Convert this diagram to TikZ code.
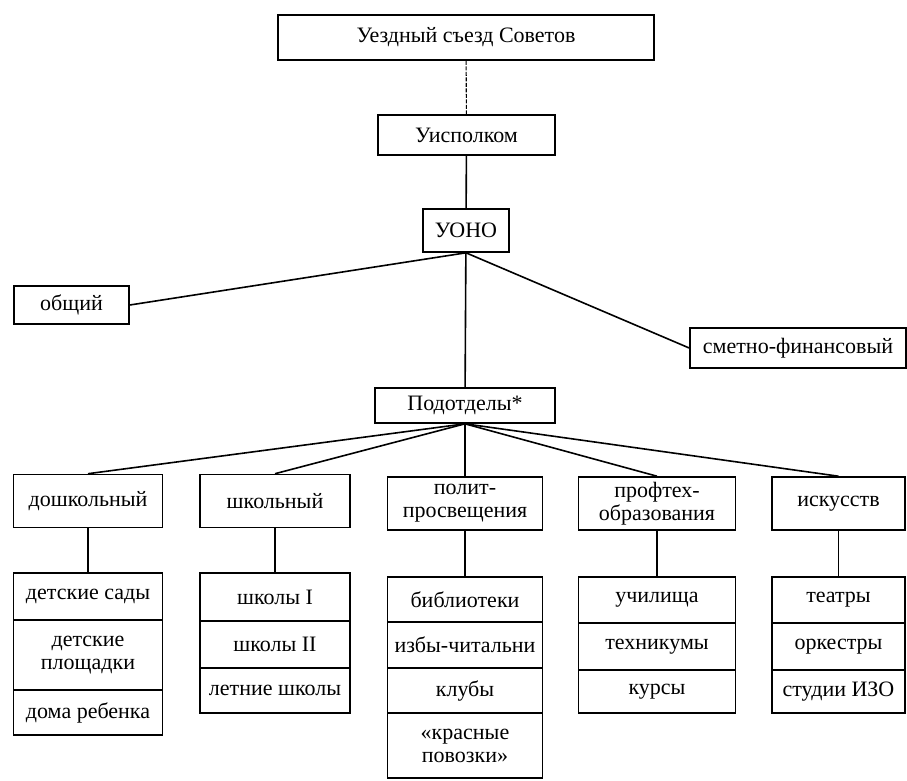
\documentclass[tikz,border=0pt]{standalone}
\usepackage{fontspec}
\setmainfont{Liberation Serif}
\usepackage{tikz}

\begin{document}
\begin{tikzpicture}[x=1pt,y=-1pt]
\useasboundingbox (0,0) rectangle (907,780);
\tikzstyle{boite}=[draw,line width=1.6pt,inner sep=0pt,align=center,
  font=\fontsize{22}{23}\selectfont]
\tikzstyle{lien}=[line width=1.6pt]
	\node[boite,minimum width=376pt,minimum height=45pt] (A) at (466,37.5) {Уездный съезд Советов};
	\node[boite,minimum width=177pt,minimum height=40pt] (B) at (466.5,135) {Уисполком};
	\node[boite,minimum width=86pt,minimum height=43pt] (C) at (466,230.5) {УОНО};
	\node[boite,minimum width=115pt,minimum height=38pt] (O) at (71.5,305) {общий};
	\node[boite,minimum width=216pt,minimum height=40pt] (S) at (798,348) {сметно-финансовый};
	\node[boite,minimum width=180pt,minimum height=35pt] (P) at (465,405.5) {Подотделы*};
\par
	\node[boite,minimum width=149pt,minimum height=53pt] (D) at (88,501) {дошкольный};
	\node[boite,minimum width=150pt,minimum height=53pt] (E) at (275,501) {школьный};
	\node[boite,minimum width=155pt,minimum height=53pt] (F) at (465,503.5) {полит-\\просвещения};
	\node[boite,minimum width=157pt,minimum height=53pt] (G) at (657,503.5) {профтех-\\образования};
	\node[boite,minimum width=133pt,minimum height=53pt] (H) at (838.5,503.5) {искусств};
\par
	\node[boite,minimum width=149pt,minimum height=47pt] (D1) at (88,596.5) {детские сады};
	\node[boite,minimum width=149pt,minimum height=70pt] (D2) at (88,655) {детские\\площадки};
	\node[boite,minimum width=149pt,minimum height=45pt] (D3) at (88,712.5) {дома ребенка};
	\node[boite,minimum width=150pt,minimum height=48pt] (E1) at (275,597) {школы I};
	\node[boite,minimum width=150pt,minimum height=47pt] (E2) at (275,644.5) {школы II};
	\node[boite,minimum width=150pt,minimum height=45pt] (E3) at (275,690.5) {летние школы};
	\node[boite,minimum width=155pt,minimum height=45pt] (F1) at (465,599.5) {библиотеки};
	\node[boite,minimum width=155pt,minimum height=46pt] (F2) at (465,645) {избы-читальни};
	\node[boite,minimum width=155pt,minimum height=45pt] (F3) at (465,690.5) {клубы};
	\node[boite,minimum width=155pt,minimum height=65pt] (F4) at (465,745.5) {«красные\\повозки»};
	\node[boite,minimum width=157pt,minimum height=46pt] (G1) at (657,600) {училища};
	\node[boite,minimum width=157pt,minimum height=47pt] (G2) at (657,646.5) {техникумы};
	\node[boite,minimum width=157pt,minimum height=43pt] (G3) at (657,691.5) {курсы};
	\node[boite,minimum width=133pt,minimum height=46pt] (H1) at (838.5,600) {театры};
	\node[boite,minimum width=133pt,minimum height=47pt] (H2) at (838.5,646.5) {оркестры};
	\node[boite,minimum width=133pt,minimum height=43pt] (H3) at (838.5,691.5) {студии ИЗО};
\par
	\draw[line width=1.1pt,dash pattern=on 4pt off 1.5pt] (A)--(B);
	\draw[lien] (B)--(C);
	\draw[lien] (C.south)--(O.east);
	\draw[lien] (C.south)--(S.west);
	\draw[lien] (C)--(P);
\par
	\draw[lien] (P.south)--(D.north);
	\draw[lien] (P.south)--(E.north);
	\draw[lien] (P.south)--(F.north);
	\draw[lien] (P.south)--(G.north);
	\draw[lien] (P.south)--(H.north);
\par
	\draw[lien] (D)--(D1);
	\draw[lien] (E)--(E1);
	\draw[lien] (F)--(F1);
	\draw[lien] (G)--(G1);
	\draw[lien] (H)--(H1);
\end{tikzpicture}
\end{document}
